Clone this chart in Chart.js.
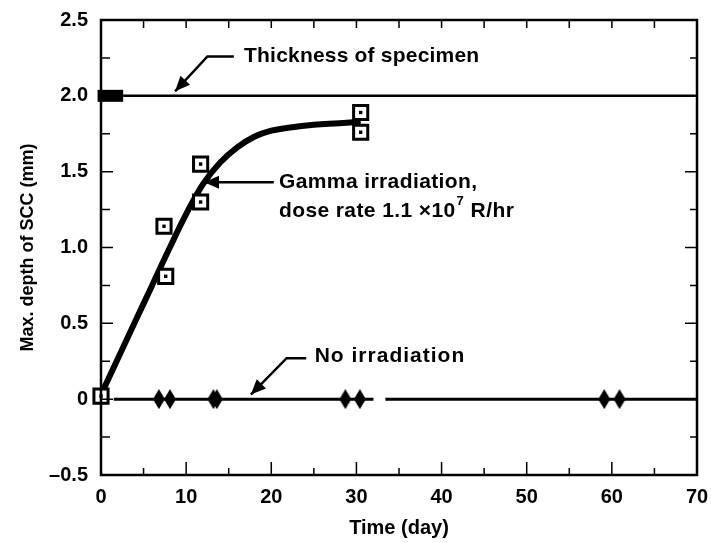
<!DOCTYPE html>
<html>
<head>
<meta charset="utf-8">
<script src="https://cdn.jsdelivr.net/npm/chart.js@4"></script>
<style>
  body { margin: 0; background: #fff; }
  #wrap { width: 711px; height: 543px; }
</style>
</head>
<body>
<div id="wrap"><canvas id="myChart"></canvas></div>
<script>
// values
const xTicks = [0, 10, 20, 30, 40, 50, 60, 70]
const yTicks = [-0.5, 0, 0.5, 1.0, 1.5, 2.0, 2.5]
const yTickLabels = ['\u20130.5', '0', '0.5', '1.0', '1.5', '2.0', '2.5']

const gammaDays = [0, 7.4, 7.6, 11.7, 11.7, 30.5, 30.5]
const gammaDepth = [0.02, 1.14, 0.81, 1.55, 1.30, 1.89, 1.76]

const fitDays = [0, 2, 4, 6, 8, 10, 12, 14, 16, 18, 20, 22, 25, 28, 30.5]
const fitDepth = [0.03, 0.27, 0.51, 0.75, 0.99, 1.22, 1.42, 1.56, 1.66, 1.73, 1.77, 1.79, 1.81, 1.82, 1.83]

const noIrrDays = [6.8, 8.1, 13.2, 13.6, 28.7, 30.4, 59.1, 60.9]
const noIrrDepth = [0, 0, 0, 0, 0, 0, 0, 0]

const thickness = 2.0

const pts = (xs, ys) => xs.map((x, i) => ({ x: x, y: ys[i] }))

// tall black diamond
const diamond = document.createElement('canvas')
diamond.width = 12
diamond.height = 20
{
  const c = diamond.getContext('2d')
  c.fillStyle = '#000'
  c.beginPath()
  c.moveTo(6, 0); c.lineTo(12, 10); c.lineTo(6, 20); c.lineTo(0, 10)
  c.closePath()
  c.fill()
}

const FONT = 'Liberation Sans, Arial, sans-serif'

const frameAndNotes = {
  id: 'frameAndNotes',
  afterDraw(chart) {
    const ctx = chart.ctx
    const a = chart.chartArea
    const xs = chart.scales.x
    const ys = chart.scales.y
    ctx.save()
    ctx.strokeStyle = '#000'
    ctx.fillStyle = '#000'
    // frame
    ctx.lineWidth = 2.5
    ctx.strokeRect(a.left, a.top, a.right - a.left, a.bottom - a.top)
    // inward ticks
    ctx.lineWidth = 1.5
    ctx.beginPath()
    for (let v = 0; v <= 70; v += 5) {
      const px = xs.getPixelForValue(v)
      const len = v % 10 === 0 ? 13 : 7
      ctx.moveTo(px, a.bottom); ctx.lineTo(px, a.bottom - len)
      ctx.moveTo(px, a.top); ctx.lineTo(px, a.top + 8)
    }
    for (let v = -0.5; v <= 2.5001; v += 0.25) {
      const py = ys.getPixelForValue(v)
      const major = Math.abs(v * 2 - Math.round(v * 2)) < 1e-6
      ctx.moveTo(a.left, py); ctx.lineTo(a.left + (major ? 12 : 9), py)
      ctx.moveTo(a.right, py); ctx.lineTo(a.right - (major ? 12 : 7), py)
    }
    ctx.stroke()

    // labels and arrows
    const X = v => xs.getPixelForValue(v)
    const Y = v => ys.getPixelForValue(v)
    const arrow = (path) => {
      ctx.lineWidth = 2.5
      ctx.beginPath()
      ctx.moveTo(X(path[0][0]), Y(path[0][1]))
      for (let i = 1; i < path.length; i++) ctx.lineTo(X(path[i][0]), Y(path[i][1]))
      ctx.stroke()
      const p = path[path.length - 2], q = path[path.length - 1]
      const x1 = X(p[0]), y1 = Y(p[1]), x2 = X(q[0]), y2 = Y(q[1])
      const ang = Math.atan2(y2 - y1, x2 - x1)
      const L = 15, W = 6.5
      ctx.beginPath()
      ctx.moveTo(x2, y2)
      ctx.lineTo(x2 - L * Math.cos(ang) + W * Math.sin(ang), y2 - L * Math.sin(ang) - W * Math.cos(ang))
      ctx.lineTo(x2 - L * Math.cos(ang) - W * Math.sin(ang), y2 - L * Math.sin(ang) + W * Math.cos(ang))
      ctx.closePath()
      ctx.fill()
    }
    ctx.font = 'bold 21px ' + FONT
    ctx.textBaseline = 'middle'
    ctx.textAlign = 'left'
    ctx.letterSpacing = '0.2px'
    ctx.fillText('Thickness of specimen', X(16.8), Y(2.26))
    arrow([[15.6, 2.26], [12.5, 2.26], [8.7, 2.03]])

    ctx.letterSpacing = '0.4px'
    ctx.fillText('Gamma irradiation,', X(20.9), Y(1.43))
    const line2 = 'dose rate 1.1 \u00d710'
    ctx.fillText(line2, X(20.9), Y(1.24))
    const w2 = ctx.measureText(line2).width
    ctx.font = 'bold 13px ' + FONT
    ctx.fillText('7', X(20.9) + w2 + 1, Y(1.24) - 10)
    ctx.font = 'bold 21px ' + FONT
    ctx.fillText('R/hr', X(20.9) + w2 + 15, Y(1.24))
    arrow([[20.3, 1.43], [12.1, 1.43]])

    ctx.letterSpacing = '1px'
    ctx.fillText('No irradiation', X(25.1), Y(0.28))
    arrow([[24.1, 0.27], [21.8, 0.27], [17.6, 0.03]])
    ctx.restore()
  }
}

const ctx = document.getElementById('myChart')
new Chart(ctx, {
  type: 'scatter',
  data: {
    datasets: [
      {
        label: 'fit',
        data: pts(fitDays, fitDepth),
        showLine: true,
        borderColor: '#000',
        borderWidth: 6,
        pointRadius: 0,
        tension: 0.4,
        order: 3
      },
      {
        label: 'Gamma irradiation',
        data: pts(gammaDays, gammaDepth),
        pointStyle: 'rect',
        pointRadius: 10,
        backgroundColor: '#fff',
        borderColor: '#000',
        borderWidth: 3,
        clip: false,
        order: 1
      },
      {
        label: 'dots',
        data: pts(gammaDays, gammaDepth),
        pointStyle: 'rect',
        pointRadius: 2.4,
        backgroundColor: '#000',
        borderColor: '#000',
        borderWidth: 0,
        clip: false,
        order: 0
      },
      {
        label: 'No irradiation',
        data: pts(noIrrDays, noIrrDepth),
        pointStyle: diamond,
        order: 1
      },
      {
        label: 'zero line',
        data: [{ x: 1.5, y: 0 }, { x: 32, y: 0 }, { x: 32.7, y: null }, { x: 33.4, y: 0 }, { x: 70, y: 0 }],
        showLine: true,
        spanGaps: false,
        borderColor: '#000',
        borderWidth: 3,
        pointRadius: 0,
        order: 3
      },
      {
        label: 'thickness',
        data: [{ x: 2.6, y: thickness }, { x: 70, y: thickness }],
        showLine: true,
        borderColor: '#000',
        borderWidth: 2.5,
        pointRadius: 0,
        order: 3
      },
      {
        label: 'thickness bar',
        data: [{ x: -0.4, y: thickness }, { x: 2.6, y: thickness }],
        showLine: true,
        borderColor: '#000',
        borderWidth: 12,
        borderCapStyle: 'butt',
        pointRadius: 0,
        clip: false,
        order: 3
      }
    ]
  },
  options: {
    responsive: true,
    maintainAspectRatio: false,
    animation: false,
    layout: { padding: { top: 20, right: 14, left: 0, bottom: 0 } },
    plugins: {
      legend: { display: false },
      tooltip: { enabled: false }
    },
    scales: {
      x: {
        type: 'linear',
        min: 0,
        max: 70,
        afterBuildTicks: s => { s.ticks = xTicks.map(v => ({ value: v })) },
        afterFit: s => { s.height = 68; s.paddingLeft = 0; s.paddingRight = 0 },
        grid: { display: false, drawTicks: false },
        border: { display: false },
        ticks: {
          color: '#000',
          padding: 10,
          font: { family: FONT, size: 20, weight: 'bold' }
        },
        title: {
          display: true,
          text: 'Time (day)',
          color: '#000',
          padding: { top: 2, bottom: 3 },
          font: { family: FONT, size: 20, weight: 'bold' }
        }
      },
      y: {
        type: 'linear',
        min: -0.5,
        max: 2.5,
        afterBuildTicks: s => { s.ticks = yTicks.map(v => ({ value: v })) },
        afterFit: s => { s.width = 101; s.paddingTop = 0; s.paddingBottom = 0 },
        grid: { display: false, drawTicks: false },
        border: { display: false },
        ticks: {
          color: '#000',
          padding: 13,
          font: { family: FONT, size: 20, weight: 'bold' },
          callback: (v) => {
            const i = yTicks.findIndex(t => Math.abs(t - v) < 1e-6)
            return i >= 0 ? yTickLabels[i] : ''
          }
        },
        title: {
          display: true,
          text: 'Max. depth of SCC (mm)',
          color: '#000',
          padding: { top: 17, bottom: 0 },
          font: { family: FONT, size: 18, weight: 'bold' }
        }
      }
    }
  },
  plugins: [frameAndNotes]
})
</script>
</body>
</html>
